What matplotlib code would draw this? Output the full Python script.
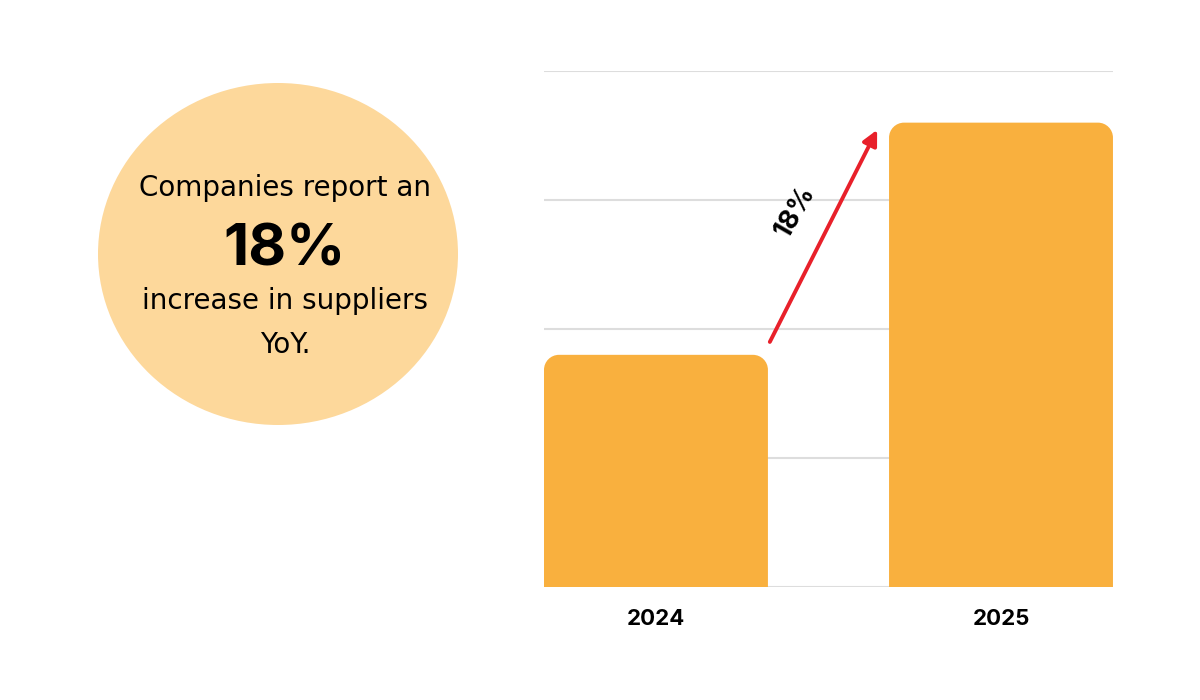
import matplotlib
matplotlib.use("Agg")
import matplotlib.pyplot as plt
from matplotlib.patches import Ellipse, PathPatch
from matplotlib.path import Path

# data
years = ["2024", "2025"]
values = [45, 90]
growth_label = "18%"
y_ticks = [0, 25, 50, 75, 100]

bar_color = "#F9B03E"
circle_color = "#FDD89B"
arrow_color = "#E8202A"
grid_color = "#DDDDDD"

plt.rcParams["font.family"] = ["Inter", "DejaVu Sans"]

fig = plt.figure(figsize=(12, 7), dpi=100)
ax = fig.add_axes([0.4533, 0.1614, 0.4742, 0.7371])

x = list(range(len(years)))
bars = ax.bar(x, values, width=0.649, color=bar_color, zorder=3)
ax.set_xlim(-0.3246, 1.3246)
ax.set_ylim(0, 100)
ax.set_yticks(y_ticks)
ax.yaxis.grid(True, color=grid_color, linewidth=1.5, zorder=0)
ax.set_axisbelow(True)
for s in ax.spines.values():
    s.set_visible(False)
ax.tick_params(axis="y", left=False, labelleft=False)
ax.tick_params(axis="x", bottom=False, pad=12)
ax.set_xticks(x)
ax.set_xticklabels(years, fontsize=16, fontweight="bold")


def round_top(ax, rect, r_px=15):
    # swap a bar for a path with rounded top corners
    x0, y0 = rect.get_x(), rect.get_y()
    x1, y1 = x0 + rect.get_width(), y0 + rect.get_height()
    p0 = ax.transData.transform((0, 0))
    p1 = ax.transData.transform((1, 1))
    rx = r_px / (p1[0] - p0[0])
    ry = r_px / (p1[1] - p0[1])
    k = 0.5523
    verts = [(x0, y0), (x0, y1 - ry),
             (x0, y1 - ry + k * ry), (x0 + rx - k * rx, y1), (x0 + rx, y1),
             (x1 - rx, y1),
             (x1 - rx + k * rx, y1), (x1, y1 - ry + k * ry), (x1, y1 - ry),
             (x1, y0), (x0, y0)]
    codes = [Path.MOVETO, Path.LINETO,
             Path.CURVE4, Path.CURVE4, Path.CURVE4,
             Path.LINETO,
             Path.CURVE4, Path.CURVE4, Path.CURVE4,
             Path.LINETO, Path.CLOSEPOLY]
    patch = PathPatch(Path(verts, codes), facecolor=rect.get_facecolor(),
                      edgecolor="none", zorder=3)
    rect.set_visible(False)
    ax.add_patch(patch)


for b in bars:
    round_top(ax, b)

# growth arrow between the bars
ax.annotate("", xy=(0.641, 88.6), xytext=(0.330, 47.5),
            arrowprops=dict(arrowstyle="-|>,head_length=0.9,head_width=0.45",
                            color=arrow_color, lw=2.8, shrinkA=0, shrinkB=0),
            zorder=5)
ax.text(0.404, 72.8, growth_label, rotation=60, fontsize=19,
        fontweight="bold", ha="center", va="center", zorder=5)

# left callout circle
circle = Ellipse((278 / 1200, 1 - 254 / 700), 360 / 1200, 342 / 700,
                 transform=fig.transFigure, facecolor=circle_color,
                 edgecolor="none")
fig.patches.append(circle)

cx = 285 / 1200
body = ["DejaVu Sans"]
fig.text(cx, 1 - 188 / 700, "Companies report an", fontsize=20,
         family=body, ha="center", va="center")
fig.text(cx, 1 - 250 / 700, "18%", fontsize=42, fontweight="bold",
         ha="center", va="center")
fig.text(cx, 1 - 301 / 700, "increase in suppliers", fontsize=20,
         family=body, ha="center", va="center")
fig.text(cx, 1 - 345 / 700, "YoY.", fontsize=20, family=body,
         ha="center", va="center")

fig.savefig("out.png", dpi=100, facecolor="white")
